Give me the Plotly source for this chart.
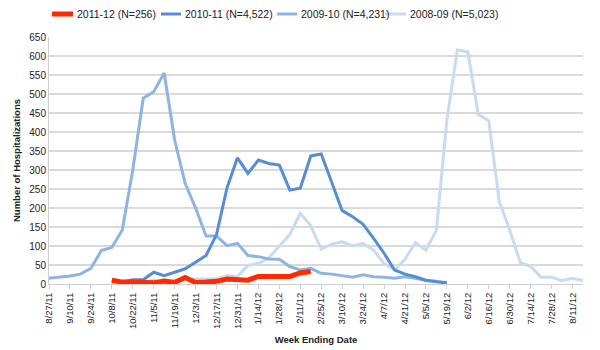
import plotly.graph_objects as go

weeks = ["8/27/11", "9/3/11", "9/10/11", "9/17/11", "9/24/11", "10/1/11", "10/8/11", "10/15/11",
         "10/22/11", "10/29/11", "11/5/11", "11/12/11", "11/19/11", "11/26/11", "12/3/11", "12/10/11",
         "12/17/11", "12/24/11", "12/31/11", "1/7/12", "1/14/12", "1/21/12", "1/28/12", "2/4/12",
         "2/11/12", "2/18/12", "2/25/12", "3/3/12", "3/10/12", "3/17/12", "3/24/12", "3/31/12",
         "4/7/12", "4/14/12", "4/21/12", "4/28/12", "5/5/12", "5/12/12", "5/19/12", "5/26/12",
         "6/2/12", "6/9/12", "6/16/12", "6/23/12", "6/30/12", "7/7/12", "7/14/12", "7/21/12",
         "7/28/12", "8/4/12", "8/11/12", "8/18/12"]
tick_labels = weeks[::2]

# 2011-12 starts at 10/8/11
s2011 = [10, 5, 5, 5, 3, 8, 4, 17, 4, 5, 7, 13, 13, 10, 20, 20, 20, 20, 29, 33]
# 2010-11 starts at 10/8/11
s2010 = [9, 5, 11, 11, 31, 22, 31, 40, 57, 75, 130, 253, 332, 291, 326, 317, 313, 247, 252, 337,
         342, 265, 193, 177, 157, 120, 81, 37, 26, 19, 10, 6, 3]
# 2009-10 starts at 8/27/11
s2009 = [15, 18, 21, 26, 41, 88, 96, 142, 300, 489, 506, 555, 379, 265, 200, 126, 126, 101, 107, 75,
         72, 66, 65, 46, 37, 41, 28, 26, 21, 18, 24, 19, 18, 15, 19, 15, 9, 7, 2]
# 2008-09 starts at 10/8/11
s2008 = [4, 3, 3, 3, 11, 4, 10, 13, 13, 13, 13, 22, 20, 49, 54, 69, 99, 130, 186, 153, 92, 105, 111,
         100, 107, 89, 54, 37, 65, 109, 89, 142, 432, 616, 611, 446, 430, 217, 142, 57, 46, 18, 18,
         9, 15, 9]

start_2011 = weeks.index("10/8/11")
start_2010 = weeks.index("10/8/11")
start_2009 = 0
start_2008 = weeks.index("10/8/11")

series = [
    ("2008-09 (N=5,023)", s2008, start_2008, "#C9DBF1", 3),
    ("2009-10 (N=4,231)", s2009, start_2009, "#8EB4E3", 3),
    ("2010-11 (N=4,522)", s2010, start_2010, "#558ED5", 3),
    ("2011-12 (N=256)", s2011, start_2011, "#FF2A00", 5),
]

W, H = 600, 350
ML, MR, MT, MB = 49, 17, 37, 66
PW, PH = W - ML - MR, H - MT - MB

fig = go.Figure()
for name, vals, start, color, width in series:
    fig.add_trace(go.Scatter(
        x=weeks[start:start + len(vals)], y=vals, mode="lines", name=name,
        line=dict(color=color, width=width), showlegend=False,
    ))

# legend drawn as shapes + text, in legend order
legend_px = {  # line start px, line end px, text start px
    "2011-12 (N=256)": (52, 73, 75),
    "2010-11 (N=4,522)": (161, 181, 183),
    "2009-10 (N=4,231)": (277, 297, 299),
    "2008-09 (N=5,023)": (385, 406, 408),
}
ly = 1 + (MT - 14) / PH
for name, vals, start, color, width in reversed(series):
    x0, x1, xt = legend_px[name]
    fig.add_shape(type="line", xref="paper", yref="paper",
                  x0=(x0 - ML) / PW, x1=(x1 - ML) / PW, y0=ly, y1=ly,
                  line=dict(color=color, width=width))
    fig.add_annotation(xref="paper", yref="paper", x=(xt - ML) / PW, y=ly,
                       xanchor="left", yanchor="middle", text=name, showarrow=False,
                       font=dict(size=10.5, color="#222"))

fig.update_layout(
    width=W, height=H,
    margin=dict(l=ML, r=MR, t=MT, b=MB, autoexpand=False),
    paper_bgcolor="white", plot_bgcolor="white",
    font=dict(family="Liberation Sans, Arial, sans-serif", size=10, color="#222"),
    showlegend=False,
)
fig.update_xaxes(
    type="category", categoryorder="array", categoryarray=weeks,
    range=[0, 51], tickmode="array", tickvals=tick_labels, ticktext=tick_labels,
    tickangle=-90, tickfont=dict(size=9.5, color="#222"), automargin=False,
    ticks="outside", ticklen=4, tickcolor="#D0D0D0",
    showgrid=False, showline=True, linecolor="#D0D0D0", linewidth=1,
    title=dict(text="<b>Week Ending Date</b>", font=dict(size=9.5, color="#222"), standoff=8),
)
fig.update_yaxes(
    range=[0, 650], dtick=50, tickfont=dict(size=10, color="#222"), automargin=False,
    showgrid=True, gridcolor="#DADADA", gridwidth=1.5,
    showline=True, linecolor="#D0D0D0", linewidth=1, zeroline=False,
    ticks="", title=dict(text="<b>Number of Hospitalizations</b>", font=dict(size=9.5, color="#222"), standoff=6),
)

fig.write_html("out.html")
